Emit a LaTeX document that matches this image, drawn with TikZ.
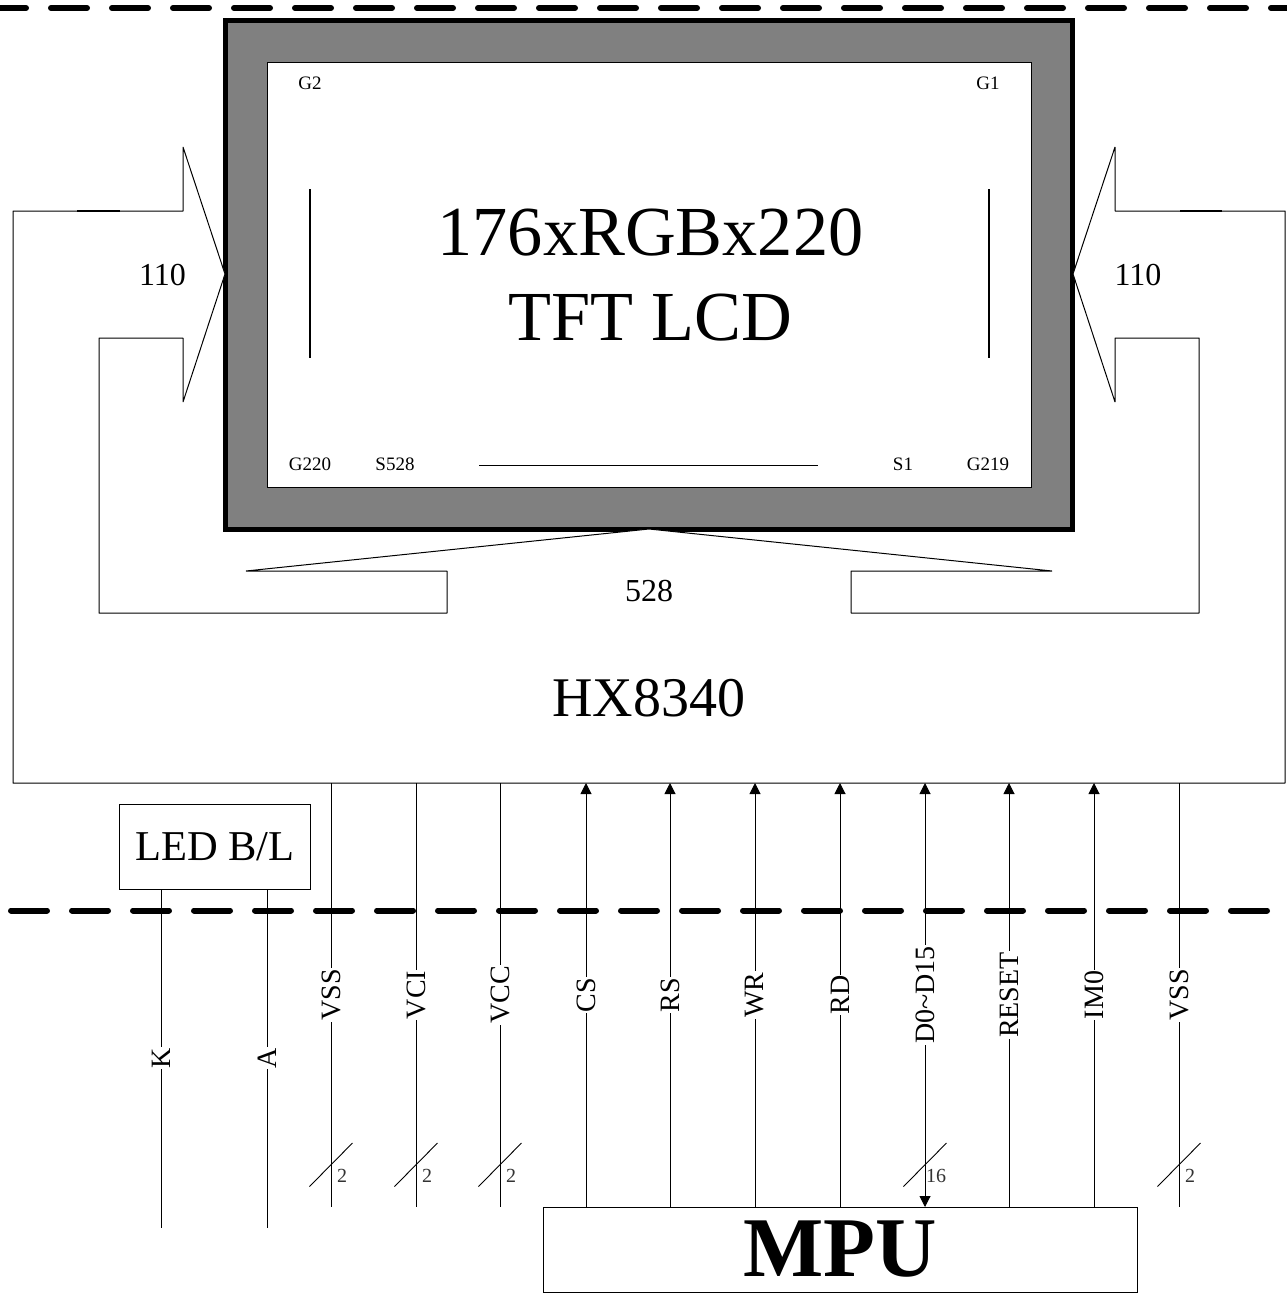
\documentclass[tikz,border=0pt]{standalone}
\usepackage{fontspec}
\setmainfont{Liberation Serif}
\usetikzlibrary{arrows.meta}
\newcommand{\fs}[1]{\fontsize{#1}{#1}\selectfont}
\tikzset{
  thin line/.style={draw=black,line width=1pt},
  sep dash/.style={line width=6pt,line cap=round,dash pattern=on 36pt off 25pt},
  siglabel/.style={rotate=90,fill=white,inner xsep=1pt,inner ysep=0pt,font=\fs{28}},
  pinlabel/.style={inner sep=0pt,font=\fs{19}},
  buslabel/.style={inner sep=0pt,font=\fs{20},text=black!80},
  sigin/.style={thin line,-{Triangle[length=11pt,width=11pt]}},
  sigboth/.style={thin line,{Triangle[length=11pt,width=11pt]}-{Triangle[length=11pt,width=11pt]}},
  boxnode/.style={thin line,fill=white,inner sep=0pt,anchor=north west}
}
\begin{document}
\begin{tikzpicture}[x=1pt,y=-1pt]
\useasboundingbox (0,0) rectangle (1287,1293);
\fill[white] (0,0) rectangle (1287,1293);
% separators
\draw[sep dash] (-10,8) -- (1300,8);
\draw[sep dash] (11,910.5) -- (1267,910.5);
% panel
\draw[draw=black,line width=5pt,fill=black!50] (225.5,20.5) rectangle (1072.5,529);
\draw[thin line,fill=white] (267,62) rectangle (1031,487);
\draw[line width=1.4pt] (310,189) -- (310,358) (989,189) -- (989,358);
\draw[line width=1pt] (479,465) -- (818,465);
% wedges of the driver outline that bite into the panel border
\fill[white] (183,147) -- (225,274) -- (183,402) -- cycle;
\fill[white] (1115,147) -- (1073,274) -- (1115,402) -- cycle;
\fill[white] (246,571) -- (649,529) -- (1052,571) -- cycle;
% driver outline
\draw[thin line,line join=miter,miter limit=1] (13,211) -- (183,211) -- (183,147) -- (225,274) -- (183,402) -- (183,338)
  -- (99,338) -- (99,613) -- (447,613) -- (447,571) -- (246,571) -- (649,529) -- (1052,571) -- (851,571)
  -- (851,613) -- (1199,613) -- (1199,338) -- (1115,338) -- (1115,402) -- (1073,274) -- (1115,147)
  -- (1115,211) -- (1285,211) -- (1285,783) -- (13,783) -- cycle;
\draw[line width=1.3pt] (77,211) -- (120,211) (1180,211) -- (1222,211);
\node[inner sep=0pt,align=center,font=\fontsize{70.3}{85}\selectfont] (panel) at (650.5,275) {176xRGBx220\\TFT LCD};
\node[pinlabel] (g2) at (310,83) {G2};
\node[pinlabel] (g1) at (988,83) {G1};
\node[pinlabel] (g220) at (310,464) {G220};
\node[pinlabel] (s528) at (395,464) {S528};
\node[pinlabel] (s1) at (903,464) {S1};
\node[pinlabel] (g219) at (988,464) {G219};
\node[inner sep=0pt,font=\fs{32}] (nl) at (162.5,275) {110};
\node[inner sep=0pt,font=\fs{32}] (nr) at (1138,275) {110};
\node[inner sep=0pt,font=\fs{32}] (ns) at (649,591) {528};
\node[inner sep=0pt,font=\fs{56}] (chip) at (649,698) {HX8340};
% boxes
\node[boxnode,minimum width=191pt,minimum height=85pt,font=\fs{42.5}] (led) at (119,804) {LED B/L};
\node[boxnode,minimum width=594pt,minimum height=85pt,font=\bfseries\fs{85}] (mpu) at (543,1207) {\raisebox{2pt}{MPU}};
% pin coordinates on the chip edge
\foreach \n/\x in {vssa/331,vci/416,vcc/500,cs/586,rs/670,wr/755,rd/840,data/925,rst/1009,imo/1094,vssb/1179}
  \coordinate (\n) at (\x,783);
\coordinate (kend) at (161,1228);
\coordinate (aend) at (267,1228);
\coordinate (kstart) at (161,889);
\coordinate (astart) at (267,889);
% connectors
\draw[thin line] (kstart) -- (kend);
\draw[thin line] (astart) -- (aend);
\foreach \n in {vssa,vci,vcc,vssb}
  \draw[thin line] (\n) -- (\n |- mpu.north);
\foreach \n in {cs,rs,wr,rd,rst,imo}
  \draw[sigin] (\n |- mpu.north) -- (\n);
\draw[sigboth] (data |- mpu.north) -- (data);
% signal labels
\node[siglabel] (lk) at (161,1058) {K};
\node[siglabel] (la) at (267,1058) {A};
\node[siglabel] (l1) at (331,995) {VSS};
\node[siglabel] (l2) at (416,995) {VCI};
\node[siglabel] (l3) at (500,995) {VCC};
\node[siglabel] (l4) at (586,995) {CS};
\node[siglabel] (l5) at (670,995) {RS};
\node[siglabel] (l6) at (755,995) {WR};
\node[siglabel] (l7) at (840,995) {RD};
\node[siglabel] (l8) at (925,995) {D0{\char"7E}D15};
\node[siglabel] (l9) at (1009,995) {RESET};
\node[siglabel] (l10) at (1094,995) {IM0};
\node[siglabel] (l11) at (1179,995) {VSS};
% bus slashes
\foreach \x/\t in {331/2,416/2,500/2,925/16,1179/2}{
  \draw[line width=0.9pt] (\x-21.5,1186.5) -- (\x+21.5,1143);
  \node[buslabel] at (\x+11,1176) {\t};
}
\end{tikzpicture}
\end{document}
